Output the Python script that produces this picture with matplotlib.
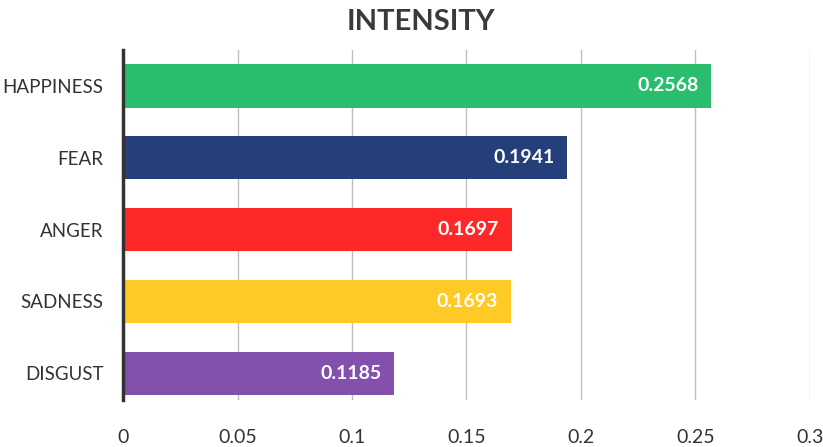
import matplotlib.pyplot as plt

emotions = ["DISGUST", "SADNESS", "ANGER", "FEAR", "HAPPINESS"]
intensity = [0.1185, 0.1693, 0.1697, 0.1941, 0.2568]
colors = ["#8350AE", "#FFC926", "#FF2828", "#243F7A", "#2BBD6E"]
xticks = [0, 0.05, 0.1, 0.15, 0.2, 0.25, 0.3]
xticklabels = ["0", "0.05", "0.1", "0.15", "0.2", "0.25", "0.3"]

plt.rcParams['font.family'] = ['Lato', 'DejaVu Sans']

fig = plt.figure(figsize=(8.23, 4.47), dpi=100)
ax = fig.add_axes([0.1495, 0.105, 0.8345, 0.783])

ypos = range(len(emotions))
ax.barh(ypos, intensity, height=0.6, color=colors, zorder=2)

# value labels inside the bar ends
for y, v in zip(ypos, intensity):
    ax.text(v - 0.0055, y, f"{v:.4f}", ha="right", va="center",
            color="white", fontsize=14, fontweight="bold", zorder=3)

ax.set_xlim(0, 0.3)
ax.set_ylim(-0.375, 4.5)
ax.set_yticks(list(ypos))
ax.set_yticklabels(emotions, fontsize=13.5, color="#333333")
ax.set_xticks(xticks)
ax.set_xticklabels(xticklabels, fontsize=14, color="#333333")
ax.tick_params(axis="both", length=0)
ax.tick_params(axis="x", pad=21)
ax.tick_params(axis="y", pad=14)

ax.grid(axis="x", color="#BFBFBF", linewidth=1, zorder=1)
for s in ["top", "right", "bottom"]:
    ax.spines[s].set_visible(False)
ax.spines["left"].set_color("#333333")
ax.spines["left"].set_linewidth(2.5)
ax.spines["left"].set_zorder(4)

fig.text(0.511, 0.95, "INTENSITY", ha="center", va="center",
         fontsize=21, fontweight="bold", color="#3A3A3A")

fig.savefig("out.png", dpi=100)
